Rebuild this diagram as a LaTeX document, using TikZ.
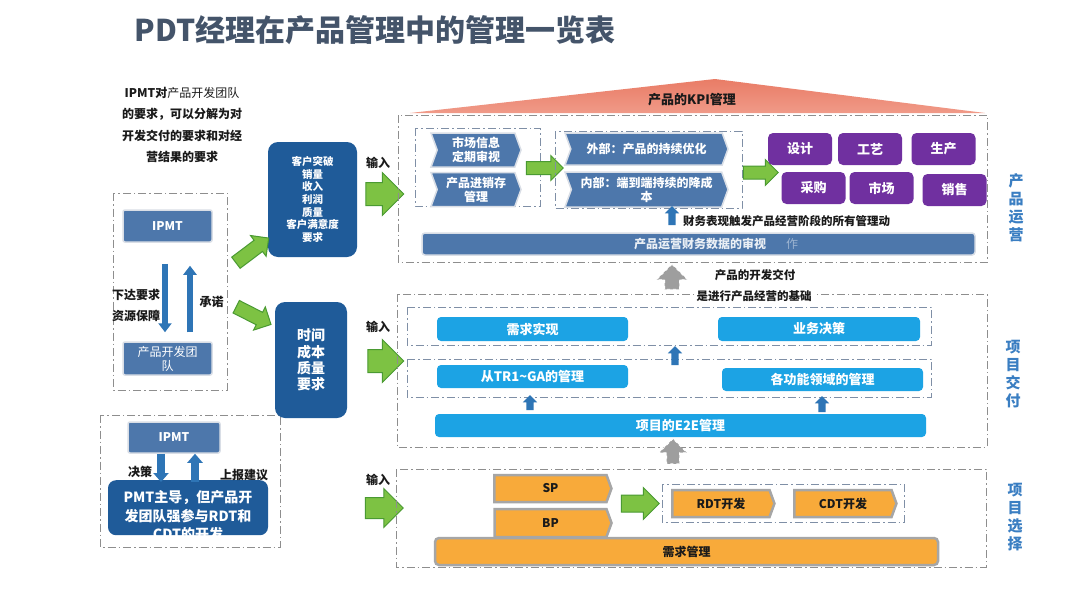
\documentclass[tikz,border=0pt]{standalone}
\usepackage{fontspec}
\setmainfont{Noto Sans CJK SC}
\usepackage{xcolor}
\definecolor{pdt-title}{HTML}{44546A}
\definecolor{pdt-steel}{HTML}{4D77AB}
\definecolor{pdt-edge}{HTML}{D9DEE6}
\definecolor{pdt-navy}{HTML}{1F5B99}
\definecolor{pdt-purple}{HTML}{7030A0}
\definecolor{pdt-sky}{HTML}{1CA3E4}
\definecolor{pdt-orange}{HTML}{F8AA3A}
\definecolor{pdt-rim}{HTML}{A6A6A6}
\definecolor{pdt-green}{HTML}{7DC243}
\definecolor{pdt-leaf}{HTML}{4A9A32}
\definecolor{pdt-blue}{HTML}{2E75B6}
\definecolor{pdt-side}{HTML}{3A7EC2}
\definecolor{pdt-frame}{HTML}{8E8E8E}
\definecolor{pdt-inner}{HTML}{7F8FA6}
\definecolor{pdt-salmon}{HTML}{E97C66}
\definecolor{pdt-pink}{HTML}{F09A88}
\definecolor{pdt-ink}{HTML}{1A1A1A}
\usetikzlibrary{shapes.symbols,shapes.arrows,arrows.meta}

\tikzset{
    dashbox/.style={draw=pdt-frame, line width=1pt, dash pattern=on 8pt off 3pt on 1.5pt off 3pt},
    innerbox/.style={dashbox, draw=pdt-inner},
    label/.style={text=pdt-ink, font=\bfseries\fontsize{12}{14}\selectfont, inner sep=0pt},
    steelbox/.style={rectangle, rounded corners=2pt, fill=pdt-steel, draw=pdt-edge, line width=1.5pt,
        text=white, align=center, inner sep=0pt, font=\bfseries\fontsize{12}{14}\selectfont},
    steelsig/.style={signal, signal to=east, signal from=west, signal pointer angle=140,
        fill=pdt-steel, draw=pdt-edge, line width=1.5pt, text=white, align=center, inner sep=0pt,
        font=\bfseries\fontsize{12}{14}\selectfont},
    navybox/.style={rectangle, rounded corners=10pt, fill=pdt-navy, text=white, align=center, inner sep=0pt},
    purplebox/.style={rectangle, rounded corners=5pt, fill=pdt-purple, text=white, inner sep=0pt,
        minimum width=64pt, minimum height=32pt, font=\bfseries\fontsize{13}{15}\selectfont},
    skybar/.style={rectangle, rounded corners=4pt, fill=pdt-sky, text=white, inner sep=0pt,
        minimum height=24pt, font=\bfseries\fontsize{13}{15}\selectfont},
    orangesig/.style={signal, signal to=east, signal pointer angle=140, fill=pdt-orange, draw=pdt-rim,
        line width=2.5pt, text=pdt-ink, inner sep=0pt, minimum height=27pt,
        font=\bfseries\fontsize{12}{14}\selectfont},
    greenarrow/.style={single arrow, fill=pdt-green, draw=pdt-leaf, line width=1pt, inner xsep=0pt},
    grayarrow/.style={single arrow, fill=black!38, draw=white, line width=0.8pt, dashed, inner xsep=0pt, rotate=90},
    bluearrow/.style={single arrow, fill=pdt-blue, inner xsep=0pt, inner ysep=3.5pt,
        single arrow head extend=3.5pt, rotate=90},
    updown/.style={draw=pdt-blue, line width=6pt, -{Triangle[length=9pt, width=13pt]}},
    sidetext/.style={text=pdt-side, align=center, inner sep=0pt, font=\bfseries\fontsize{15}{18}\selectfont}
}

\begin{document}
\begin{tikzpicture}[x=1pt, y=-1pt]

    % Page
    \useasboundingbox (0, 0) rectangle (1080, 608);
    \fill[white] (0, 0) rectangle (1080, 608);

    % Title
    \node[text=pdt-title, font=\bfseries\fontsize{30}{32}\selectfont, inner sep=0pt] (title) at (375, 30)
        {PDT经理在产品管理中的管理一览表};

    % Left column
    \node[label, align=center, font=\bfseries\fontsize{12}{21.3}\selectfont] (intro) at (182, 125)
        {IPMT对\mdseries 产品开发团队\\的要求，可以分解为对\\开发交付的要求和对经\\营结果的要求};

    \draw[dashbox] (113, 193) rectangle (227, 390);
    \node[steelbox, minimum width=89pt, minimum height=32pt] (ipmtA) at (167.5, 226) {IPMT};
    \node[steelbox, minimum width=89pt, minimum height=33pt, font=\fontsize{12}{14}\selectfont] (teamA) at (167.5, 358.5)
        {产品开发团\\队};
    \draw[updown] ([xshift=-2.5pt, yshift=-21pt]ipmtA.south) -- ([xshift=-2.5pt, yshift=9pt]teamA.north);
    \draw[updown] ([xshift=22.5pt, yshift=9pt]teamA.north) -- ([xshift=22.5pt, yshift=-23pt]ipmtA.south);
    \node[label] (order) at (136, 295) {下达要求};
    \node[label] (supply) at (136, 316) {资源保障};
    \node[label] (promise) at (211.5, 302) {承诺};

    \draw[dashbox] (100, 415) rectangle (280, 547);
    \node[steelbox, minimum width=92pt, minimum height=31pt] (ipmtB) at (174, 437.5) {IPMT};
    \node[navybox, rounded corners=8pt, minimum width=160pt, minimum height=55pt, anchor=north] (pmt) at (188, 480) {};
    \node[text=white, align=center, inner sep=0pt, font=\bfseries\fontsize{14}{18.5}\selectfont] (pmttext) at (188, 516)
        {PMT主导，但产品开\\发团队强参与RDT和\\CDT的开发};
    \draw[updown, line width=8pt, -{Triangle[length=9pt, width=15pt]}] ([xshift=-13pt]ipmtB.south) -- ([xshift=-27pt, yshift=-2pt]pmt.north);
    \draw[updown, line width=8pt, -{Triangle[length=9pt, width=15pt]}] ([xshift=7pt, yshift=-2pt]pmt.north) -- ([xshift=21pt]ipmtB.south);
    \node[label] (decide) at (140, 472) {决策};
    \node[label] (report) at (244, 475) {上报建议};

    % Requirement boxes
    \node[navybox, minimum width=89pt, minimum height=115pt, font=\bfseries\fontsize{10.5}{12.7}\selectfont] (result) at (312.5, 199.5)
        {客户突破\\销量\\收入\\利润\\质量\\客户满意度\\要求};
    \node[navybox, minimum width=72pt, minimum height=116pt, font=\bfseries\fontsize{14}{16.3}\selectfont] (deliver) at (311, 360)
        {时间\\成本\\质量\\要求};
    \node[greenarrow, minimum height=41pt, inner ysep=6.5pt, single arrow head extend=6pt, rotate=37] (upA) at (249.5, 252.5) {};
    \node[greenarrow, minimum height=39pt, inner ysep=6.5pt, single arrow head extend=6pt, rotate=-27] (downA) at (250.5, 314) {};

    % Inputs
    \node[label] (inA) at (378, 163) {输入};
    \node[label] (inB) at (378, 327) {输入};
    \node[label] (inC) at (378, 480) {输入};
    \node[greenarrow, minimum height=38pt, inner ysep=11pt, single arrow head extend=10pt] (goA) at (379, 194) {};
    \node[greenarrow, minimum height=36pt, inner ysep=11pt, single arrow head extend=10pt] (goB) at (380, 361) {};
    \node[greenarrow, minimum height=38pt, inner ysep=10pt, single arrow head extend=9pt] (goC) at (379, 508) {};

    % Product operation
    \shade[top color=pdt-salmon, bottom color=pdt-pink] (410, 113) -- (715, 79) -- (985, 113) -- cycle;
    \node[label, font=\bfseries\fontsize{13}{15}\selectfont] (kpi) at (692, 100) {产品的KPI管理};
    \draw[dashbox] (398, 115) rectangle (987, 262);

    \draw[innerbox] (415, 128) rectangle (540, 206);
    \node[steelsig, minimum width=90pt, minimum height=34pt] (market) at (476, 150) {市场信息\\定期审视};
    \node[steelsig, minimum width=90pt, minimum height=34pt] (stock) at (476, 189.5) {产品进销存\\管理};
    \node[greenarrow, minimum height=37pt, inner ysep=6pt, single arrow head extend=6pt] (goD) at (541.5, 168) {};

    \draw[innerbox] (555, 131) rectangle (742, 208);
    \node[steelsig, minimum width=163pt, minimum height=32pt] (outer) at (646.5, 149) {外部：产品的持续优化};
    \node[steelsig, minimum width=163pt, minimum height=35pt] (inner) at (646.5, 189.5) {内部：端到端持续的降成\\本};
    \node[greenarrow, minimum height=35pt, inner ysep=6pt, single arrow head extend=6.5pt] (goE) at (757.5, 172.5) {};

    \node[purplebox] (design) at (800, 149) {设计};
    \node[purplebox] (craft) at (870, 149) {工艺};
    \node[purplebox] (make) at (943.5, 149) {生产};
    \node[purplebox] (buy) at (813.5, 188) {采购};
    \node[purplebox] (sale) at (881.5, 188) {市场};
    \node[purplebox] (sell) at (954.5, 190) {销售};

    \node[bluearrow, minimum height=19pt] (finup) at (672, 217.5) {};
    \node[label, font=\bfseries\fontsize{11.5}{13}\selectfont, anchor=west] (trigger) at (683, 221)
        {财务表现触发产品经营阶段的所有管理动};
    \node[steelbox, rounded corners=3pt, minimum width=553pt, minimum height=22pt] (finance) at (698.5, 244) {};
    \node[text=white!88!pdt-steel, inner sep=0pt, font=\bfseries\fontsize{12}{14}\selectfont] (fintext) at (700, 244)
        {产品运营财务数据的审视};
    \node[text=white!45!pdt-steel, inner sep=0pt, font=\fontsize{12}{14}\selectfont] (finghost) at (792, 244) {作};
    \node[sidetext] (sideA) at (1016, 207.5) {产\\品\\运\\营};

    % Link between levels
    \node[grayarrow, minimum height=25pt, inner ysep=7pt, single arrow head extend=8pt] (baseA) at (672, 280.5) {};
    \node[label, font=\bfseries\fontsize{11.5}{13}\selectfont] (baseB) at (755, 275) {产品的开发交付};

    % Project delivery
    \draw[dashbox] (397, 294) rectangle (987, 447);
    \node[label, font=\bfseries\fontsize{11.5}{13}\selectfont, fill=white, inner xsep=2pt, inner ysep=1pt] (baseC) at (754, 296)
        {是进行产品经营的基础};
    \draw[innerbox] (407, 307) rectangle (931, 345);
    \draw[innerbox] (407, 359) rectangle (931, 397);
    \node[skybar, minimum width=191pt] (need) at (532.5, 329) {需求实现};
    \node[skybar, minimum width=202pt] (biz) at (819, 329) {业务决策};
    \node[skybar, minimum width=191pt, minimum height=23pt] (tr) at (532.5, 376.5) {从TR1\textasciitilde GA的管理};
    \node[skybar, minimum width=201pt, minimum height=23pt] (field) at (822.5, 379.5) {各功能领域的管理};
    \node[skybar, minimum width=491pt, minimum height=23pt] (e2e) at (680.5, 425.5) {项目的E2E管理};
    \node[bluearrow, minimum height=19pt] (upB) at (675, 357.5) {};
    \node[bluearrow, minimum height=15pt] (upC) at (530, 404.5) {};
    \node[bluearrow, minimum height=16pt] (upD) at (822, 406) {};
    \node[sidetext] (sideB) at (1013, 374) {项\\目\\交\\付};

    \node[grayarrow, minimum height=25pt, inner ysep=6pt, single arrow head extend=7.5pt] (baseD) at (673, 454.5) {};

    % Project selection
    \draw[dashbox] (396, 469) rectangle (986, 567);
    \node[orangesig, minimum width=117pt] (sp) at (550.5, 488.5) {SP};
    \node[orangesig, minimum width=117pt, minimum height=28pt] (bp) at (550.5, 523) {BP};
    \node[greenarrow, minimum height=38pt, inner ysep=8pt, single arrow head extend=7.5pt] (goF) at (636, 503.5) {};
    \draw[innerbox] (662, 484) rectangle (904, 522);
    \node[orangesig, minimum width=102pt] (rdt) at (721, 503.5) {RDT开发};
    \node[orangesig, minimum width=102pt] (cdt) at (843, 503.5) {CDT开发};
    \node[rectangle, rounded corners=4pt, fill=pdt-orange, draw=pdt-rim, line width=2.5pt, text=pdt-ink,
        minimum width=503pt, minimum height=27pt, font=\bfseries\fontsize{12}{14}\selectfont] (demand) at (686.5, 551.5) {需求管理};
    \node[sidetext] (sideC) at (1015, 517.5) {项\\目\\选\\择};

\end{tikzpicture}
\end{document}
